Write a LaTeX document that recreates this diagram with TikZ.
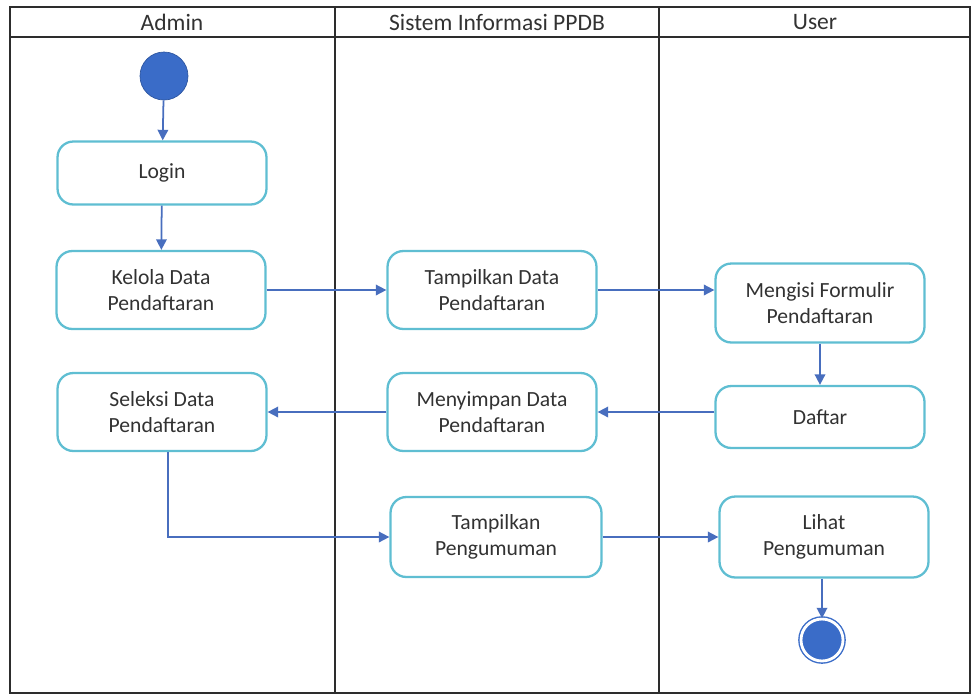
\documentclass[tikz,border=0pt]{standalone}
\usepackage{fontspec}
\setmainfont{Carlito}
\usetikzlibrary{arrows.meta}
\definecolor{lanecol}{RGB}{45,45,45}
\definecolor{boxcol}{RGB}{95,190,210}
\definecolor{flowcol}{RGB}{72,110,190}
\definecolor{dotcol}{RGB}{58,108,200}
\definecolor{txtcol}{RGB}{50,50,50}
\tikzset{
  lane/.style={draw=lanecol, line width=1.1pt},
  act/.style={draw=boxcol, line width=1.3pt, rounded corners=9pt, fill=white, align=center,
    minimum width=4.18cm, minimum height=1.56cm, text=txtcol, font=\fontsize{12.3}{14.8}\selectfont},
  flow/.style={draw=flowcol, line width=1pt, -{Triangle[width=6pt,length=6pt]}},
  startdot/.style={circle, fill=dotcol, draw=dotcol!80!black, minimum size=0.96cm, inner sep=0pt},
  enddot/.style={circle, fill=dotcol, draw=dotcol, double=white, double distance=1.6pt, line width=0.8pt, minimum size=0.84cm, inner sep=0pt},
  lanehead/.style={text=txtcol, font=\fontsize{13.4}{15}\selectfont},
}
\begin{document}
\begin{tikzpicture}[x=0.02cm, y=-0.02cm]
  \useasboundingbox (0,0) rectangle (974,698);
  % swimlanes
  \draw [lane] (10,7) rectangle (970,693);
  \draw [lane] (10,37) -- (970,37);
  \draw [lane] (335,7) -- (335,693);
  \draw [lane] (659,7) -- (659,693);
  \node [lanehead] (hadmin) at (172,22) {Admin};
  \node [lanehead] (hsis) at (497,22) {Sistem Informasi PPDB};
  \node [lanehead] (huser) at (815,22) {User};
  % admin
  \node [startdot] (start) at (164,76) {};
  \node [act, minimum height=1.26cm] (login) at (162,173) {Login};
  \node [act] (kelola) at (161,290) {Kelola Data\\Pendaftaran};
  \node [act] (seleksi) at (162,412) {Seleksi Data\\Pendaftaran};
  % sistem
  \node [act] (tampil) at (492,290) {Tampilkan Data\\Pendaftaran};
  \node [act] (simpan) at (492,412) {Menyimpan Data\\Pendaftaran};
  \node [act, minimum width=4.22cm, minimum height=1.6cm] (umum) at (496,537) {Tampilkan\\Pengumuman};
  % user
  \node [act, minimum height=1.58cm] (mengisi) at (820,303) {Mengisi Formulir\\Pendaftaran};
  \node [act, minimum height=1.24cm] (daftar) at (820,417) {Daftar};
  \node [act, minimum height=1.62cm] (lihat) at (824,537) {Lihat\\Pengumuman};
  \node [enddot] (stop) at (822,640) {};
  % flows
  \draw [flow] (start) -- (login);
  \draw [flow] (login) -- (kelola);
  \draw [flow] (kelola) -- (tampil);
  \draw [flow] (tampil.east) -- (tampil.east -| mengisi.west);
  \draw [flow] (mengisi.south) -- (mengisi.south |- daftar.north);
  \draw [flow] (daftar.west |- simpan.east) -- (simpan.east);
  \draw [flow] (simpan) -- (seleksi);
  \draw [flow] ([xshift=0.12cm]seleksi.south) |- (umum.west);
  \draw [flow] (umum) -- (lihat);
  \draw [flow] (lihat.south -| stop) -- (stop);
\end{tikzpicture}
\end{document}
